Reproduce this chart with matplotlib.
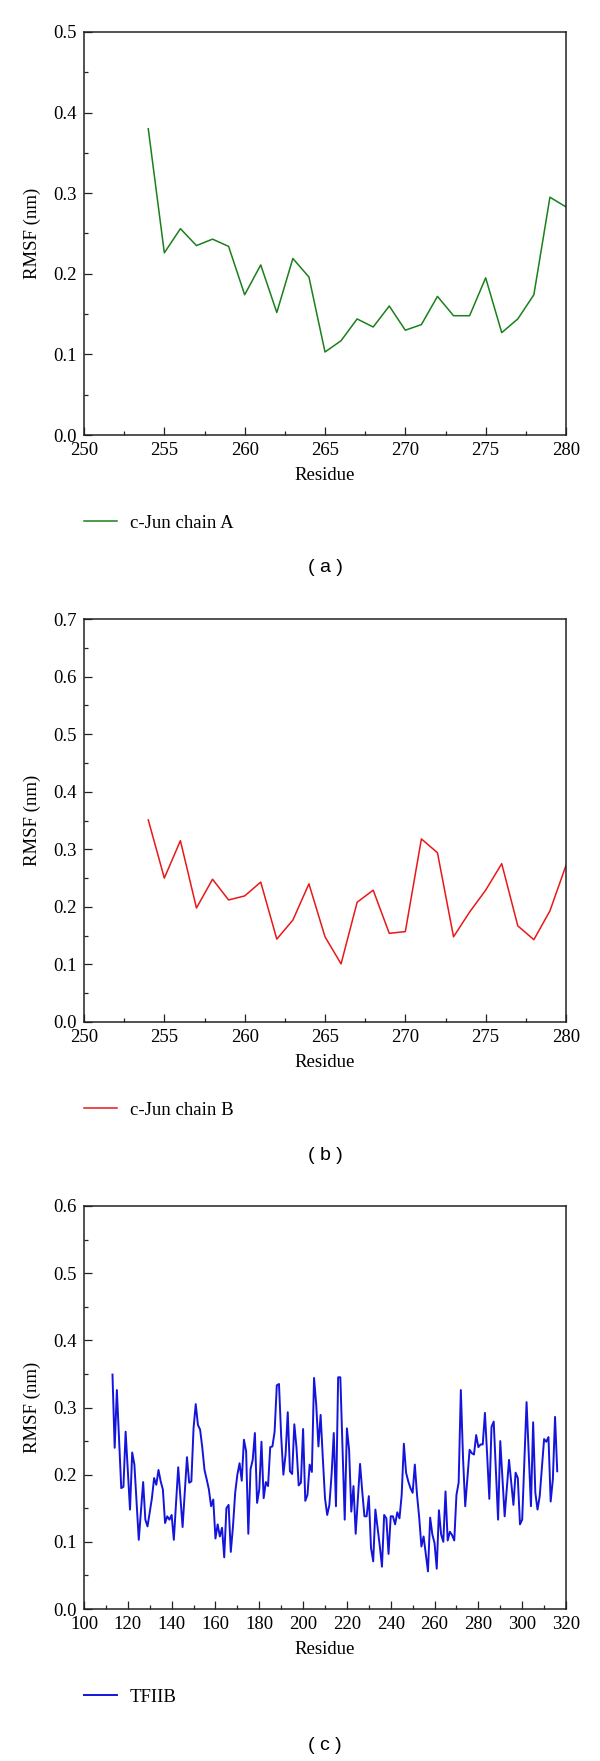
import matplotlib
matplotlib.use('Agg')
import matplotlib.pyplot as plt
from matplotlib.ticker import MultipleLocator, FormatStrFormatter

plt.rcParams['font.family'] = ['Liberation Serif', 'DejaVu Serif']

# Data
res_a = list(range(254, 281))
rmsf_a = [0.380, 0.226, 0.256, 0.235, 0.243, 0.234, 0.174, 0.211, 0.152, 0.219,
          0.196, 0.103, 0.117, 0.144, 0.134, 0.160, 0.130, 0.137, 0.172, 0.148,
          0.148, 0.195, 0.127, 0.144, 0.174, 0.295, 0.283]

res_b = list(range(254, 281))
rmsf_b = [0.351, 0.250, 0.315, 0.198, 0.248, 0.212, 0.219, 0.243, 0.144, 0.177,
          0.240, 0.148, 0.101, 0.208, 0.229, 0.154, 0.157, 0.318, 0.294, 0.148,
          0.191, 0.229, 0.275, 0.167, 0.143, 0.193, 0.272]

res_c = [113, 114, 115, 117, 118, 119, 121, 122, 123, 125, 127, 128, 129, 131,
         132, 133, 134, 135, 136, 137, 138, 139, 140, 141, 143, 145, 147, 148,
         149, 150, 151, 152, 153, 154, 155, 156, 157, 158, 159, 160, 161, 162,
         163, 164, 165, 166, 167, 168, 169, 170, 171, 172, 173, 174, 175, 176,
         177, 178, 179, 180, 181, 182, 183, 184, 185, 186, 187, 188, 189, 190,
         191, 192, 193, 194, 195, 196, 197, 198, 199, 200, 201, 202, 203, 204,
         205, 206, 207, 208, 209, 210, 211, 212, 213, 214, 215, 216, 217, 218,
         219, 220, 221, 222, 223, 224, 226, 227, 228, 229, 230, 231, 232, 233,
         234, 235, 236, 237, 238, 239, 240, 241, 242, 243, 244, 245, 246, 247,
         248, 249, 250, 251, 252, 253, 254, 255, 257, 258, 259, 260, 261, 262,
         263, 264, 265, 266, 267, 268, 269, 270, 271, 272, 273, 274, 275, 276,
         277, 278, 279, 280, 281, 282, 283, 284, 285, 286, 287, 289, 290, 292,
         294, 296, 297, 298, 299, 300, 302, 304, 305, 306, 307, 308, 310, 311,
         312, 313, 314, 315, 316]
rmsf_c = [0.349, 0.240, 0.326, 0.180, 0.182, 0.264, 0.148, 0.233, 0.215, 0.103,
          0.189, 0.133, 0.123, 0.165, 0.195, 0.185, 0.207, 0.190, 0.178, 0.128,
          0.138, 0.133, 0.140, 0.103, 0.211, 0.122, 0.226, 0.188, 0.190, 0.269,
          0.305, 0.274, 0.267, 0.240, 0.207, 0.193, 0.178, 0.153, 0.163, 0.105,
          0.126, 0.108, 0.121, 0.077, 0.150, 0.155, 0.085, 0.123, 0.173, 0.200,
          0.217, 0.191, 0.252, 0.235, 0.112, 0.208, 0.222, 0.262, 0.158, 0.178,
          0.249, 0.165, 0.189, 0.183, 0.241, 0.242, 0.264, 0.333, 0.335, 0.257,
          0.200, 0.230, 0.293, 0.205, 0.201, 0.275, 0.240, 0.184, 0.188, 0.268,
          0.161, 0.170, 0.215, 0.204, 0.344, 0.304, 0.242, 0.289, 0.225, 0.165,
          0.140, 0.155, 0.200, 0.262, 0.153, 0.345, 0.345, 0.240, 0.133, 0.269,
          0.237, 0.145, 0.183, 0.112, 0.216, 0.175, 0.138, 0.138, 0.168, 0.091,
          0.071, 0.148, 0.121, 0.094, 0.063, 0.140, 0.135, 0.082, 0.138, 0.138,
          0.126, 0.144, 0.135, 0.170, 0.246, 0.203, 0.190, 0.180, 0.173, 0.215,
          0.170, 0.136, 0.093, 0.108, 0.056, 0.136, 0.111, 0.098, 0.060, 0.147,
          0.111, 0.100, 0.175, 0.102, 0.115, 0.110, 0.102, 0.170, 0.188, 0.326,
          0.225, 0.153, 0.195, 0.237, 0.232, 0.230, 0.259, 0.241, 0.245, 0.245,
          0.292, 0.230, 0.164, 0.271, 0.279, 0.133, 0.250, 0.138, 0.222, 0.155,
          0.203, 0.195, 0.126, 0.133, 0.308, 0.153, 0.278, 0.173, 0.148, 0.168,
          0.253, 0.249, 0.256, 0.160, 0.193, 0.286, 0.205]

W, H = 600, 1761
fig = plt.figure(figsize=(W / 100, H / 100), dpi=100)

# panel specs: x data, y data, colour, legend, tag, xlim, ymax, x major/minor, axes top/bottom px, tag px
panels = [
    (res_a, rmsf_a, '#1a801a', 'c-Jun chain A', '( a )', (250, 280), 0.5, 5, 2.5, 32, 435, 568),
    (res_b, rmsf_b, '#e81818', 'c-Jun chain B', '( b )', (250, 280), 0.7, 5, 2.5, 619, 1022, 1156),
    (res_c, rmsf_c, '#1414dc', 'TFIIB', '( c )', (100, 320), 0.6, 20, 10, 1206, 1609, 1746),
]

left_px, right_px = 84, 566
fs = 13.5

for x, y, col, lab, tag, xlim, ymax, xmaj, xmin, top, bot, tag_y in panels:
    ax = fig.add_axes([left_px / W, 1 - bot / H, (right_px - left_px) / W, (bot - top) / H])
    lw = 1.4 if lab == 'TFIIB' else 1.1
    ax.plot(x, y, color=col, lw=lw, label=lab)
    ax.set_xlim(*xlim)
    ax.set_ylim(0, ymax)
    ax.xaxis.set_major_locator(MultipleLocator(xmaj))
    ax.xaxis.set_minor_locator(MultipleLocator(xmin))
    ax.yaxis.set_major_locator(MultipleLocator(0.1))
    ax.yaxis.set_minor_locator(MultipleLocator(0.05))
    ax.yaxis.set_major_formatter(FormatStrFormatter('%.1f'))
    ax.tick_params(which='both', direction='in', top=False, right=False, width=0.9,
                   labelsize=fs, color='#222222')
    ax.tick_params(which='major', length=5.8, pad=5)
    ax.tick_params(which='minor', length=3.2)
    for s in ax.spines.values():
        s.set_linewidth(1.1)
        s.set_color('#222222')
    ax.set_xlabel('Residue', fontsize=fs, labelpad=6)
    ax.set_ylabel('RMSF (nm)', fontsize=fs, labelpad=9)

    leg_y = 1 - (bot + 88) / H
    ax.legend(loc='center left', bbox_to_anchor=(left_px / W, leg_y),
              bbox_transform=fig.transFigure, frameon=False, fontsize=fs,
              handlelength=1.75, handletextpad=0.7, borderpad=0, borderaxespad=0)

    fig.text((left_px + right_px) / 2 / W, 1 - tag_y / H, tag,
             ha='center', va='center', fontsize=14, family='Liberation Sans')

fig.savefig('out.png', dpi=100, facecolor='white')
